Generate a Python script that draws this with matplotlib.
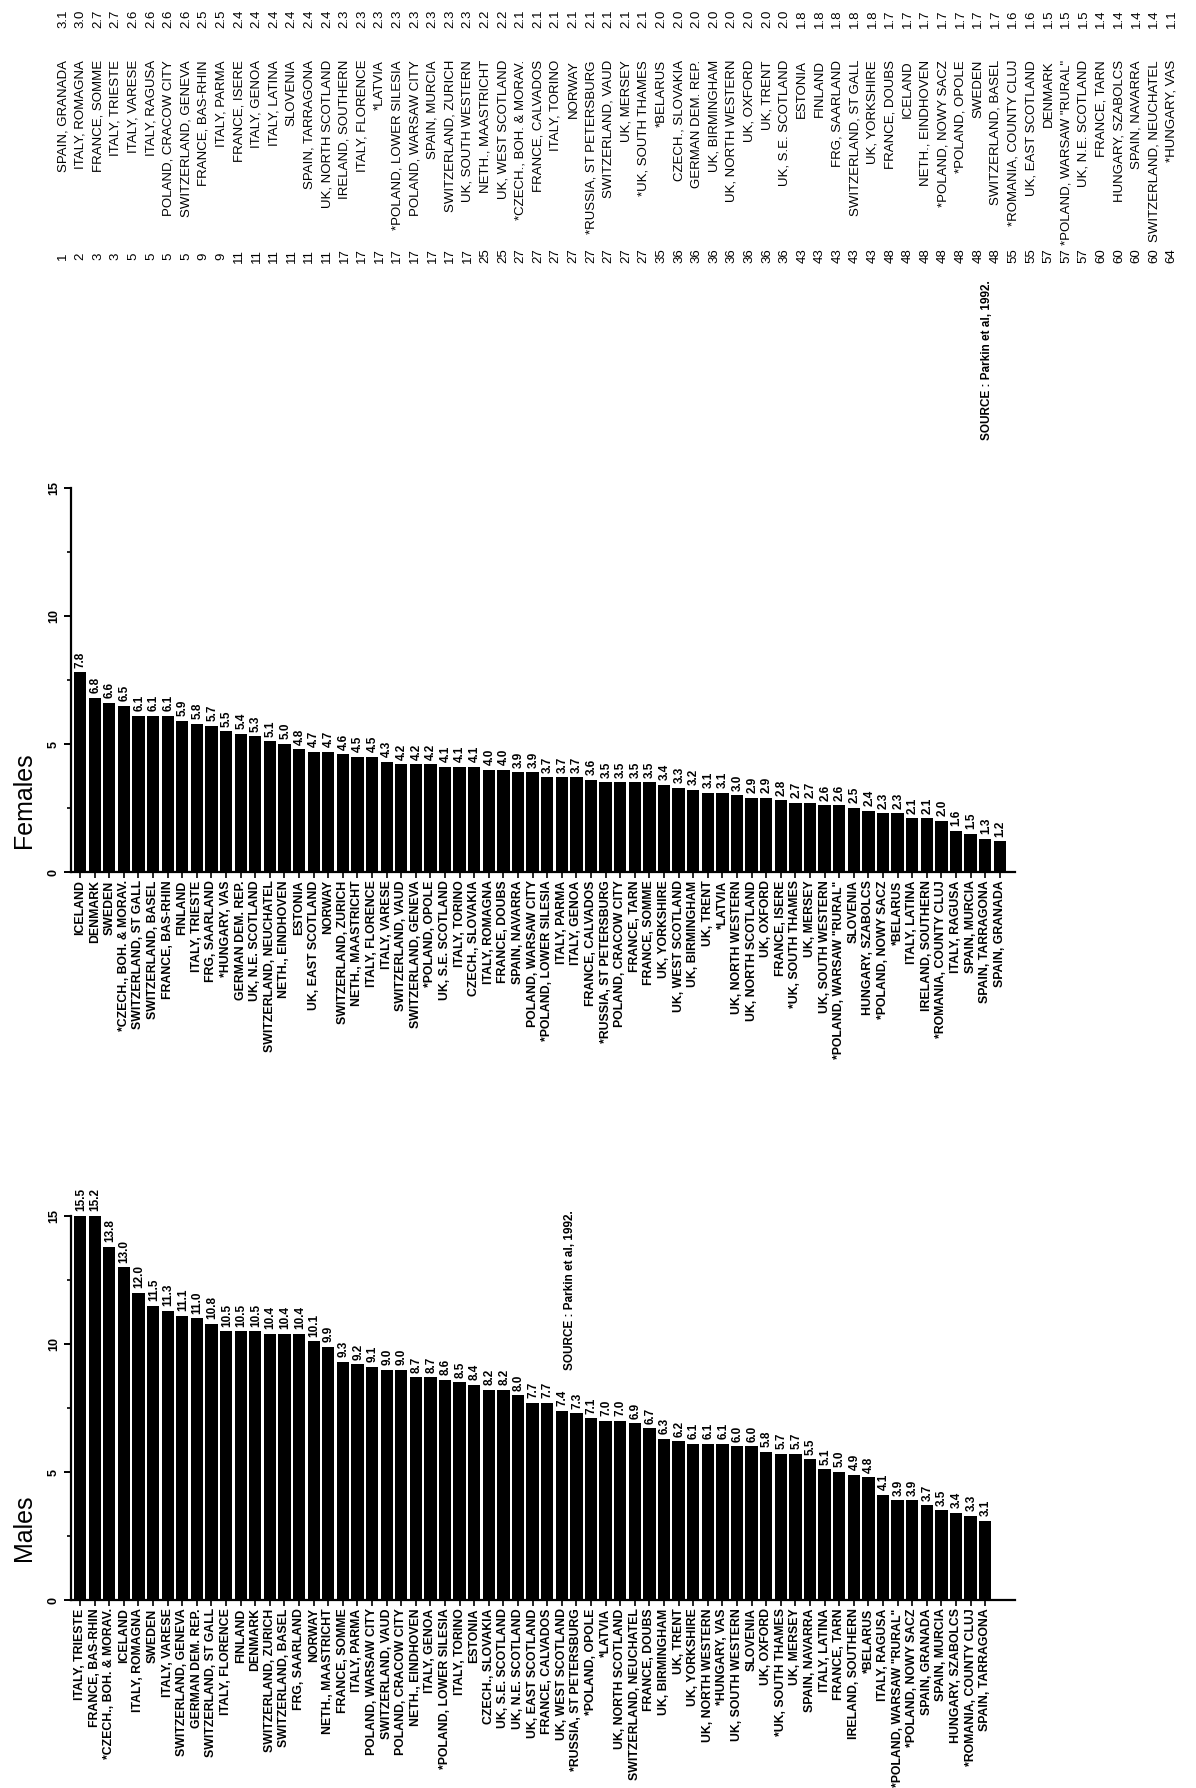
import matplotlib
matplotlib.use("Agg")
import matplotlib.pyplot as plt
from matplotlib.ticker import MultipleLocator

W, H = 1196, 1788
NARROW = ["Liberation Sans Narrow", "Liberation Sans", "DejaVu Sans"]
PLAIN = ["Liberation Sans", "DejaVu Sans"]

male_regions = [
    "ITALY, TRIESTE", "FRANCE, BAS-RHIN", "*CZECH., BOH. & MORAV.", "ICELAND",
    "ITALY, ROMAGNA", "SWEDEN", "ITALY, VARESE", "SWITZERLAND, GENEVA",
    "GERMAN DEM. REP.", "SWITZERLAND, ST GALL", "ITALY, FLORENCE", "FINLAND",
    "DENMARK", "SWITZERLAND, ZURICH", "SWITZERLAND, BASEL", "FRG, SAARLAND",
    "NORWAY", "NETH., MAASTRICHT", "FRANCE, SOMME", "ITALY, PARMA",
    "POLAND, WARSAW CITY", "SWITZERLAND, VAUD", "POLAND, CRACOW CITY",
    "NETH., EINDHOVEN", "ITALY, GENOA", "*POLAND, LOWER SILESIA", "ITALY, TORINO",
    "ESTONIA", "CZECH., SLOVAKIA", "UK, S.E. SCOTLAND", "UK, N.E. SCOTLAND",
    "UK, EAST SCOTLAND", "FRANCE, CALVADOS", "UK, WEST SCOTLAND",
    "*RUSSIA, ST PETERSBURG", "*POLAND, OPOLE", "*LATVIA", "UK, NORTH SCOTLAND",
    "SWITZERLAND, NEUCHATEL", "FRANCE, DOUBS", "UK, BIRMINGHAM", "UK, TRENT",
    "UK, YORKSHIRE", "UK, NORTH WESTERN", "*HUNGARY, VAS", "UK, SOUTH WESTERN",
    "SLOVENIA", "UK, OXFORD", "*UK, SOUTH THAMES", "UK, MERSEY", "SPAIN, NAVARRA",
    "ITALY, LATINA", "FRANCE, TARN", "IRELAND, SOUTHERN", "*BELARUS",
    "ITALY, RAGUSA", '*POLAND, WARSAW "RURAL"', "*POLAND, NOWY SACZ",
    "SPAIN, GRANADA", "SPAIN, MURCIA", "HUNGARY, SZABOLCS",
    "*ROMANIA, COUNTY CLUJ", "SPAIN, TARRAGONA",
]
male_rates = [
    15.5, 15.2, 13.8, 13.0, 12.0, 11.5, 11.3, 11.1, 11.0, 10.8,
    10.5, 10.5, 10.5, 10.4, 10.4, 10.4, 10.1, 9.9, 9.3, 9.2,
    9.1, 9.0, 9.0, 8.7, 8.7, 8.6, 8.5, 8.4, 8.2, 8.2,
    8.0, 7.7, 7.7, 7.4, 7.3, 7.1, 7.0, 7.0, 6.9, 6.7,
    6.3, 6.2, 6.1, 6.1, 6.1, 6.0, 6.0, 5.8, 5.7, 5.7,
    5.5, 5.1, 5.0, 4.9, 4.8, 4.1, 3.9, 3.9, 3.7, 3.5,
    3.4, 3.3, 3.1,
]

female_regions = [
    "ICELAND", "DENMARK", "SWEDEN", "*CZECH., BOH. & MORAV.",
    "SWITZERLAND, ST GALL", "SWITZERLAND, BASEL", "FRANCE, BAS-RHIN", "FINLAND",
    "ITALY, TRIESTE", "FRG, SAARLAND", "*HUNGARY, VAS", "GERMAN DEM. REP.",
    "UK, N.E. SCOTLAND", "SWITZERLAND, NEUCHATEL", "NETH., EINDHOVEN", "ESTONIA",
    "UK, EAST SCOTLAND", "NORWAY", "SWITZERLAND, ZURICH", "NETH., MAASTRICHT",
    "ITALY, FLORENCE", "ITALY, VARESE", "SWITZERLAND, VAUD", "SWITZERLAND, GENEVA",
    "*POLAND, OPOLE", "UK, S.E. SCOTLAND", "ITALY, TORINO", "CZECH., SLOVAKIA",
    "ITALY, ROMAGNA", "FRANCE, DOUBS", "SPAIN, NAVARRA", "POLAND, WARSAW CITY",
    "*POLAND, LOWER SILESIA", "ITALY, PARMA", "ITALY, GENOA", "FRANCE, CALVADOS",
    "*RUSSIA, ST PETERSBURG", "POLAND, CRACOW CITY", "FRANCE, TARN",
    "FRANCE, SOMME", "UK, YORKSHIRE", "UK, WEST SCOTLAND", "UK, BIRMINGHAM",
    "UK, TRENT", "*LATVIA", "UK, NORTH WESTERN", "UK, NORTH SCOTLAND",
    "UK, OXFORD", "FRANCE, ISERE", "*UK, SOUTH THAMES", "UK, MERSEY",
    "UK, SOUTH WESTERN", '*POLAND, WARSAW "RURAL"', "SLOVENIA",
    "HUNGARY, SZABOLCS", "*POLAND, NOWY SACZ", "*BELARUS", "ITALY, LATINA",
    "IRELAND, SOUTHERN", "*ROMANIA, COUNTY CLUJ", "ITALY, RAGUSA",
    "SPAIN, MURCIA", "SPAIN, TARRAGONA", "SPAIN, GRANADA",
]
female_rates = [
    7.8, 6.8, 6.6, 6.5, 6.1, 6.1, 6.1, 5.9, 5.8, 5.7,
    5.5, 5.4, 5.3, 5.1, 5.0, 4.8, 4.7, 4.7, 4.6, 4.5,
    4.5, 4.3, 4.2, 4.2, 4.2, 4.1, 4.1, 4.1, 4.0, 4.0,
    3.9, 3.9, 3.7, 3.7, 3.7, 3.6, 3.5, 3.5, 3.5, 3.5,
    3.4, 3.3, 3.2, 3.1, 3.1, 3.0, 2.9, 2.9, 2.8, 2.7,
    2.7, 2.6, 2.6, 2.5, 2.4, 2.3, 2.3, 2.1, 2.1, 2.0,
    1.6, 1.5, 1.3, 1.2,
]

# sex ratio table
ratio_ranks = [
    1, 2, 3, 3, 5, 5, 5, 5, 9, 9, 11, 11, 11, 11, 11, 11,
    17, 17, 17, 17, 17, 17, 17, 17, 25, 25, 27, 27, 27, 27, 27, 27, 27, 27,
    35, 36, 36, 36, 36, 36, 36, 36, 43, 43, 43, 43, 43,
    48, 48, 48, 48, 48, 48, 48, 55, 55, 57, 57, 57, 60, 60, 60, 60, 64,
]
ratio_regions = [
    "SPAIN, GRANADA", "ITALY, ROMAGNA", "FRANCE, SOMME", "ITALY, TRIESTE",
    "ITALY, VARESE", "ITALY, RAGUSA", "POLAND, CRACOW CITY", "SWITZERLAND, GENEVA",
    "FRANCE, BAS-RHIN", "ITALY, PARMA", "FRANCE, ISERE", "ITALY, GENOA",
    "ITALY, LATINA", "SLOVENIA", "SPAIN, TARRAGONA", "UK, NORTH SCOTLAND",
    "IRELAND, SOUTHERN", "ITALY, FLORENCE", "*LATVIA", "*POLAND, LOWER SILESIA",
    "POLAND, WARSAW CITY", "SPAIN, MURCIA", "SWITZERLAND, ZURICH",
    "UK, SOUTH WESTERN", "NETH., MAASTRICHT", "UK, WEST SCOTLAND",
    "*CZECH., BOH. & MORAV.", "FRANCE, CALVADOS", "ITALY, TORINO", "NORWAY",
    "*RUSSIA, ST PETERSBURG", "SWITZERLAND, VAUD", "UK, MERSEY",
    "*UK, SOUTH THAMES", "*BELARUS", "CZECH., SLOVAKIA", "GERMAN DEM. REP.",
    "UK, BIRMINGHAM", "UK, NORTH WESTERN", "UK, OXFORD", "UK, TRENT",
    "UK, S.E. SCOTLAND", "ESTONIA", "FINLAND", "FRG, SAARLAND",
    "SWITZERLAND, ST GALL", "UK, YORKSHIRE", "FRANCE, DOUBS", "ICELAND",
    "NETH., EINDHOVEN", "*POLAND, NOWY SACZ", "*POLAND, OPOLE", "SWEDEN",
    "SWITZERLAND, BASEL", "*ROMANIA, COUNTY CLUJ", "UK, EAST SCOTLAND",
    "DENMARK", '*POLAND, WARSAW "RURAL"', "UK, N.E. SCOTLAND", "FRANCE, TARN",
    "HUNGARY, SZABOLCS", "SPAIN, NAVARRA", "SWITZERLAND, NEUCHATEL",
    "*HUNGARY, VAS",
]
ratio_values = [
    3.1, 3.0, 2.7, 2.7, 2.6, 2.6, 2.6, 2.6, 2.5, 2.5, 2.4, 2.4, 2.4, 2.4, 2.4, 2.4,
    2.3, 2.3, 2.3, 2.3, 2.3, 2.3, 2.3, 2.3, 2.2, 2.2, 2.1, 2.1, 2.1, 2.1, 2.1, 2.1,
    2.1, 2.1, 2.0, 2.0, 2.0, 2.0, 2.0, 2.0, 2.0, 2.0, 1.8, 1.8, 1.8, 1.8, 1.8,
    1.7, 1.7, 1.7, 1.7, 1.7, 1.7, 1.7, 1.6, 1.6, 1.5, 1.5, 1.5, 1.4, 1.4, 1.4, 1.4,
    1.1,
]

fig = plt.figure(figsize=(W / 100, H / 100), dpi=100)
fig.patch.set_facecolor("white")


def px_axes(x0, top, x1, bottom):
    return fig.add_axes([x0 / W, 1 - bottom / H, (x1 - x0) / W, (bottom - top) / H])


def ftext(x, y, s, **kw):
    kw.setdefault("rotation", 90)
    kw.setdefault("ha", "center")
    kw.setdefault("va", "center")
    return fig.text(x / W, 1 - y / H, s, **kw)


def bar_panel(base_y, regions, rates):
    # value axis runs upwards, 25.6 px per unit, categories 14.6 px apart
    ax = px_axes(71, base_y - 384, 1015, base_y)
    x = list(range(len(rates)))
    ax.bar(x, rates, width=0.84, color="black", zorder=2)
    ax.set_xlim(-0.62, (1015 - 80) / 14.6)
    ax.set_ylim(0, 15)
    for s in ["top", "right"]:
        ax.spines[s].set_visible(False)
    for s in ["left", "bottom"]:
        ax.spines[s].set_linewidth(1.6)
    ax.yaxis.set_major_locator(MultipleLocator(5))
    ax.yaxis.set_minor_locator(MultipleLocator(2.5))
    ax.tick_params(axis="y", which="major", length=5, width=1.4, pad=3)
    ax.tick_params(axis="y", which="minor", length=3, width=1.2)
    ax.tick_params(axis="x", length=4, width=1.2, pad=2)
    ax.set_yticks([0, 5, 10, 15])
    ax.set_yticklabels(["0", "5", "10", "15"], rotation=90, va="center",
                       family=NARROW, fontweight="bold", fontsize=9)
    ax.set_xticks(x)
    ax.set_xticklabels(regions, rotation=90, ha="center", va="top",
                       family=NARROW, fontweight="bold", fontsize=8.8)
    for xi, v in zip(x, rates):
        ax.text(xi + 0.05, min(v, 15) + 0.18, f"{v:.1f}", rotation=90,
                ha="center", va="bottom", family=NARROW, fontweight="bold",
                fontsize=8.5, clip_on=False)
    return ax


bar_panel(1600, male_regions, male_rates)
bar_panel(872, female_regions, female_rates)

ftext(24, 1528, "Males", family=PLAIN, fontsize=18)
ftext(24, 800, "Females", family=PLAIN, fontsize=18)
ftext(570, 1290, "SOURCE : Parkin et al, 1992.", family=NARROW,
      fontweight="bold", fontsize=8.5)
ftext(987, 360, "SOURCE : Parkin et al, 1992.", family=NARROW,
      fontweight="bold", fontsize=8.5)

# ranked list of male/female ratios
for i, (r, name, v) in enumerate(zip(ratio_ranks, ratio_regions, ratio_values)):
    rx = 63 + 17.6 * i
    ftext(rx, 256, str(r), family=PLAIN, fontsize=9.5)
    ftext(rx, 60, name, va="top", family=PLAIN, fontsize=9.5)
    ftext(rx, 19, f"{v:.1f}", family=PLAIN, fontsize=9.5)

fig.savefig("out.png", dpi=100, facecolor="white")
